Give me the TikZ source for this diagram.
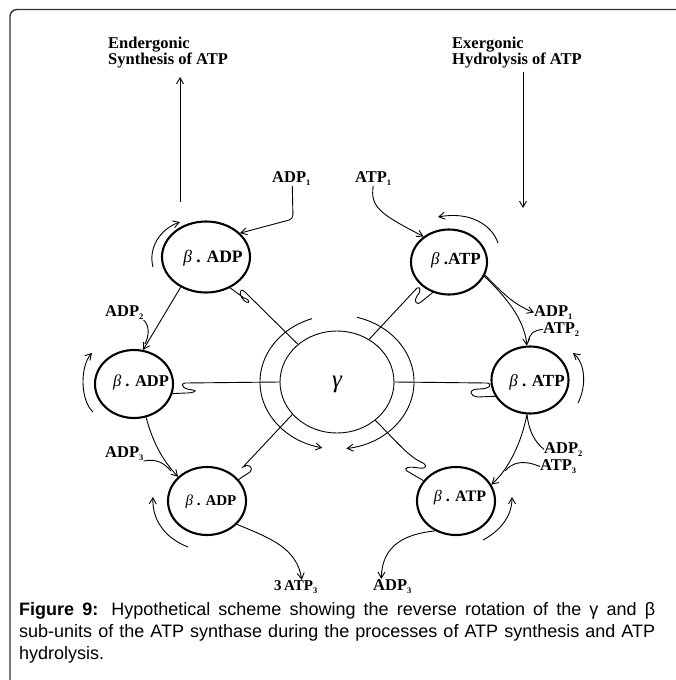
\documentclass[tikz,border=0pt]{standalone}
\usepackage{fontspec}
\setmainfont{Liberation Serif}
\newfontfamily\capfont{Liberation Sans}
\usetikzlibrary{shapes.geometric,arrows.meta,calc}
\newcommand\sbs[1]{\raisebox{-0.5ex}{\fontsize{8.5}{9}\selectfont #1}}
\begin{document}
\begin{tikzpicture}[x=1pt,y=-1pt,
  ell/.style={ellipse, draw, line width=2.1pt, inner sep=0pt},
  thinl/.style={line width=0.9pt},
  arr/.style={line width=0.9pt, -{Straight Barb[length=6pt,width=7pt]}},
  lab/.style={font=\fontsize{16.5}{18}\selectfont\bfseries, inner sep=0pt, anchor=base west},
  ctx/.style={inner sep=0pt},
  capl/.style={font=\capfont\fontsize{18}{22}\selectfont, inner sep=0pt, anchor=base west}
]
\useasboundingbox (0,0) rectangle (676,680);
% frame
\draw[line width=1.4pt, color=black!80, rounded corners=7pt] (10,700) -- (10,9.5) -- (700,9.5);

% beta circles
\node[ell, minimum width=88pt, minimum height=71pt] (tl) at (206,257) {};
\node[ell, minimum width=76pt, minimum height=65pt] (tr) at (449,262) {};
\node[ell, minimum width=78pt, minimum height=68pt] (ml) at (134,384) {};
\node[ell, minimum width=77pt, minimum height=67pt] (mr) at (530,380) {};
\node[ell, minimum width=78pt, minimum height=68pt] (bl) at (207,501) {};
\node[ell, minimum width=78pt, minimum height=68pt] (br) at (456,501) {};
% gamma
\node[ellipse, draw, line width=0.9pt, minimum width=114pt, minimum height=102pt, inner sep=0pt] (g) at (337,382) {};
\node[ctx, font=\fontsize{25}{25}\selectfont\itshape] (gt) at (337,384) {γ};

% circle texts
\node[ctx, font=\fontsize{17.5}{20}\selectfont] (tlt) at (213,258) {\textit{β} \textbf{. ADP}};
\node[ctx, font=\fontsize{17}{20}\selectfont] (trt) at (456,260) {\textit{β} \textbf{.ATP}};
\node[ctx, font=\fontsize{16.5}{20}\selectfont] (mlt) at (141,382) {\textit{β} \textbf{. ADP}};
\node[ctx, font=\fontsize{17}{20}\selectfont] (mrt) at (537,382) {\textit{β} \textbf{. ATP}};
\node[ctx, font=\fontsize{15}{20}\selectfont] (blt) at (211,502) {\textit{β} \textbf{. ADP}};
\node[ctx, font=\fontsize{16}{20}\selectfont] (brt) at (460,498) {\textit{β} \textbf{. ATP}};

% labels
\node[lab] (end1) at (108,48) {Endergonic};
\node[lab] (end2) at (108,64) {Synthesis of ATP};
\node[lab] (exo1) at (452,48) {Exergonic};
\node[lab] (exo2) at (452,64) {Hydrolysis of ATP};
\node[lab] (adpa) at (272,182) {ADP\sbs{1}};
\node[lab] (atpa) at (355,182) {ATP\sbs{1}};
\node[lab] (adpr1) at (534,316) {ADP\sbs{1}};
\node[lab] (atpb) at (543,333) {ATP\sbs{2}};
\node[lab] (adpr2) at (544,453) {ADP\sbs{2}};
\node[lab] (atpd) at (540,470) {ATP\sbs{3}};
\node[lab] (adpb3) at (373,590) {ADP\sbs{3}};
\node[lab, font=\fontsize{15}{18}\selectfont\bfseries] (atpc) at (274,590) {3\,ATP\sbs{3}};
\node[lab] (adp2l) at (105,316) {ADP\sbs{2}};
\node[lab] (adp3l) at (105,457) {ADP\sbs{3}};

% big arrows
\coordinate (synb) at (180,202); \coordinate (synt) at (180,77);
\draw[arr] (synb) -- (synt);
\coordinate (hydt) at (523,72); \coordinate (hydb) at (523,208);
\draw[arr] (hydt) -- (hydb);

% rotation arcs
\draw[arr] (153,267) .. controls (148,248) and (160,229) .. (180,222);
\draw[arr] (93,412) .. controls (80,400) and (80,366) .. (92,353);
\draw[arr] (188,547) .. controls (165,538) and (152,520) .. (153,497);
\draw[arr] (498,243) .. controls (492,225) and (470,211) .. (438,217);
\draw[arr] (578,403) .. controls (587,385) and (585,363) .. (573,353);
\draw[arr] (483,540) .. controls (498,532) and (512,518) .. (512,497);
% gamma rings
\draw[arr] ([shift={(-109:77 and 67)}]g.center) arc[start angle=-109, end angle=-259, x radius=77, y radius=67];
\draw[arr] ([shift={(-75:77 and 67)}]g.center) arc[start angle=-75, end angle=83, x radius=77, y radius=67];

% left side connectors
\draw[arr, rounded corners=4pt] ([xshift=1pt]adpa.south) -- (293,219) -- (tl.35);
\draw[arr] (tl.-130) -- (ml.75);
\draw[thinl] (adp2l.south east) .. controls (150,326) and (149,336) .. (145,344);
\draw[arr] (ml.-70) .. controls (152,440) and (162,460) .. (bl.140);
\draw[thinl] (adp3l.south east) .. controls (157,458) and (165,464) .. (171,471);
\draw[arr] (bl.-38) .. controls (270,538) and (297,548) .. ([xshift=6pt]atpc.north);

% right side connectors
\draw[arr] (atpa.south) .. controls (370,207) and (380,214) .. (tr.135);
\draw[arr] (tr.-20) .. controls (500,290) and (512,304) .. (adpr1.west);
\draw[arr] (tr.-22) .. controls (505,296) and (524,318) .. (mr.95);
\draw[thinl] (atpb.west) .. controls (533,330) and (529,335) .. (528,342);
\draw[arr] (mr.-95) .. controls (522,440) and (510,468) .. (br.25);
\draw[thinl] (mr.-95) .. controls (529,432) and (535,442) .. (adpr2.west);
\draw[thinl] (atpd.west) .. controls (522,459) and (512,463) .. (505,471);
\draw[arr] (br.-125) .. controls (405,534) and (382,545) .. ([xshift=-11pt]adpb3.north);

% gamma to beta connectors with hooks
\draw[thinl] (g.136) -- (245,292) .. controls (239,286) and (238,297) .. (246,302) .. controls (250,304) and (250,299) .. (244,298) -- (tl.-52);
\draw[thinl] (g.53) -- (417,288) .. controls (421,286) and (421,292) .. (417,296) .. controls (413,301) and (417,306) .. (421,302) -- (tr.-118);
\draw[thinl] (g.180) -- (185,383) .. controls (178,385) and (186,390) .. (193,390) .. controls (198,391) and (193,393) .. (186,393) -- (ml.-14);
\draw[thinl] (g.0) -- (487,383) .. controls (493,384) and (490,389) .. (479,389) .. controls (468,389) and (469,396) .. (478,397) -- (mr.-155);
\draw[thinl] (g.-144) -- (243,467) .. controls (248,463) and (254,467) .. (250,472) .. controls (247,475) and (244,475) .. (bl.34);
\draw[thinl] (g.-45) .. controls (395,440) and (408,456) .. (421,462) .. controls (428,465) and (427,469) .. (419,468) .. controls (408,466) and (403,468) .. (407,471) -- (br.148);

% caption
\node[capl] (c1) at (19,615) {\makebox[636pt][s]{\textbf{Figure 9:} Hypothetical scheme showing the reverse rotation of the γ and β}};
\node[capl] (c2) at (19,637) {\makebox[636pt][s]{sub-units of the ATP synthase during the processes of ATP synthesis and ATP}};
\node[capl] (c3) at (19,659) {hydrolysis.};
\end{tikzpicture}
\end{document}
